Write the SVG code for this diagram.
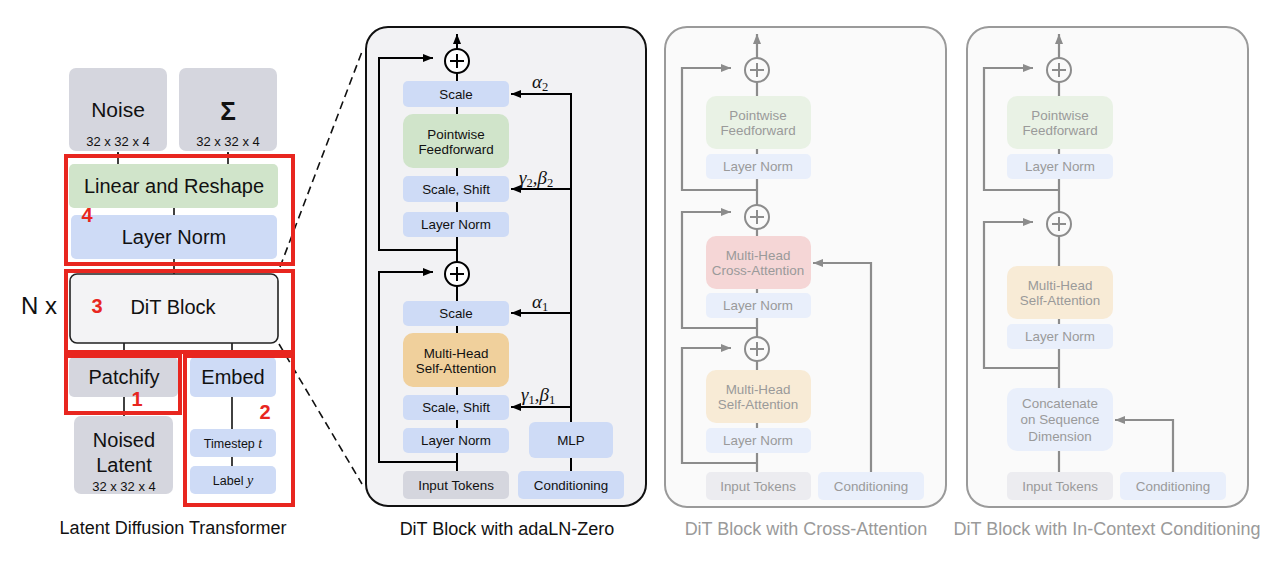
<svg xmlns="http://www.w3.org/2000/svg" width="1280" height="563" viewBox="0 0 1280 563">
<defs>
<style>
text{font-family:"Liberation Sans",Arial,sans-serif;text-anchor:middle}
.t20{font-size:20px;fill:#111}
.t13{font-size:13.4px;fill:#111}
.s13{font-size:13px;fill:#111}
.f13{font-size:13.4px;fill:#9a9a9a}
.cap{font-size:18px;fill:#111}
.fcap{font-size:18px;fill:#9a9a9a}
.red{font-size:20px;font-weight:bold;fill:#e8261f}
.gk{font-family:"Liberation Serif","Times New Roman",serif;font-style:italic;font-size:19px;fill:#111;text-anchor:start}
.sb{font-style:normal;font-size:12.5px}
.rb{fill:none;stroke:#e8261f;stroke-width:4}
.ln{fill:none;stroke:#111;stroke-width:1.6}
.bk{fill:none;stroke:#000;stroke-width:2}
.gy{fill:none;stroke:#8c8c8c;stroke-width:2.2}
.blue{fill:#cedbf6}
.gray{fill:#d5d6de}
.green{fill:#d0e4ca}
.orange{fill:#f0d09c}
.fblue{fill:#e9effb}
.fgray{fill:#ececf0}
.fgreen{fill:#e9f2e5}
.forange{fill:#f8ebd6}
.fpink{fill:#f5d6d6}
</style>
<marker id="ab" markerUnits="userSpaceOnUse" markerWidth="10" markerHeight="10" refX="10" refY="5" orient="auto"><path d="M0,1 L10,5 L0,9 z" fill="#000"/></marker>
<marker id="ag" markerUnits="userSpaceOnUse" markerWidth="10" markerHeight="10" refX="10" refY="5" orient="auto"><path d="M0,1 L10,5 L0,9 z" fill="#8c8c8c"/></marker>
<marker id="as" markerUnits="userSpaceOnUse" markerWidth="6" markerHeight="6" refX="6" refY="3" orient="auto"><path d="M0,0 L6,3 L0,6 z" fill="#111"/></marker>
</defs>
<rect width="1280" height="563" fill="#fff"/>

<!-- connectors -->
<g id="connectors">
  <line class="ln" x1="118" y1="164" x2="118" y2="152" marker-end="url(#as)"/>
  <line class="ln" x1="228" y1="164" x2="228" y2="152" marker-end="url(#as)"/>
  <line class="ln" x1="174" y1="208" x2="174" y2="215"/>
  <line class="ln" x1="174" y1="259" x2="174" y2="274"/>
  <line class="ln" x1="124" y1="343" x2="124" y2="357"/>
  <line class="ln" x1="232" y1="343" x2="232" y2="357"/>
  <line class="ln" x1="124" y1="397" x2="124" y2="416"/>
  <line class="ln" x1="232" y1="397" x2="232" y2="429"/>
  <line class="ln" x1="232" y1="457" x2="232" y2="466"/>
  <line x1="280" y1="267" x2="363" y2="49" stroke="#111" stroke-width="1.6" stroke-dasharray="8,5" fill="none"/>
  <line x1="279" y1="344" x2="362" y2="484" stroke="#111" stroke-width="1.6" stroke-dasharray="8,5" fill="none"/>
</g>

<!-- left panel nodes -->
<g id="noise"><rect class="gray" x="69" y="68" width="98" height="83" rx="7"/><text class="t20" x="118" y="117" style="font-size:21px">Noise</text><text class="s13" x="118" y="146">32 x 32 x 4</text></g>
<g id="sigma"><rect class="gray" x="179" y="68" width="98" height="83" rx="7"/><text class="t20" x="228" y="120" style="font-size:26px;font-weight:bold">Σ</text><text class="s13" x="228" y="146">32 x 32 x 4</text></g>
<g id="linear-reshape"><rect class="green" x="69" y="164" width="209" height="44" rx="5"/><text class="t20" x="174" y="193">Linear and Reshape</text></g>
<g id="final-layer-norm"><rect class="blue" x="71" y="215" width="206" height="44" rx="5"/><text class="t20" x="174" y="244">Layer Norm</text></g>
<g id="dit-block-left"><rect x="70" y="274" width="208" height="69" rx="7" fill="#f3f3f5" stroke="#222" stroke-width="1.6"/><text class="t20" x="173" y="314">DiT Block</text></g>
<g id="nx"><text x="39" y="314" style="font-size:24px;fill:#111">N x</text></g>
<g id="patchify"><rect class="gray" x="69" y="357" width="109" height="40" rx="5"/><text class="t20" x="124" y="384">Patchify</text></g>
<g id="noised-latent"><rect class="gray" x="74" y="416" width="99" height="78" rx="7"/><text class="t20" x="124" y="447">Noised</text><text class="t20" x="124" y="472">Latent</text><text class="s13" x="124" y="491">32 x 32 x 4</text></g>
<g id="embed"><rect class="blue" x="190" y="357" width="86" height="40" rx="5"/><text class="t20" x="233" y="384">Embed</text></g>
<g id="timestep"><rect class="blue" x="190" y="429" width="86" height="28" rx="5"/><text x="233" y="448" style="font-size:12.5px;fill:#111">Timestep <tspan style="font-family:'Liberation Serif',serif;font-style:italic;font-size:14px">t</tspan></text></g>
<g id="label"><rect class="blue" x="190" y="466" width="86" height="28" rx="5"/><text x="233" y="485" style="font-size:12.5px;fill:#111">Label <tspan style="font-family:'Liberation Serif',serif;font-style:italic;font-size:14px">y</tspan></text></g>
<g id="red-boxes">
  <rect class="rb" x="66" y="156" width="227" height="108"/>
  <rect class="rb" x="66" y="271" width="227" height="81"/>
  <rect class="rb" x="66" y="356" width="114" height="57"/>
  <rect class="rb" x="185" y="356" width="108" height="149"/>
  <text class="red" x="87" y="222">4</text>
  <text class="red" x="97" y="313">3</text>
  <text class="red" x="137" y="406">1</text>
  <text class="red" x="265" y="419">2</text>
</g>
<text class="cap" x="173" y="534">Latent Diffusion Transformer</text>

<!-- middle panel: adaLN-Zero -->
<g id="adaln-panel">
  <rect x="366" y="27" width="280" height="479" rx="22" fill="#f2f2f4" stroke="#111" stroke-width="2"/>
  <g id="adaln-connectors">
    <line class="bk" x1="457" y1="471" x2="457" y2="34" marker-end="url(#ab)"/>
    <path class="bk" d="M457,250 H379 V58 H433" marker-end="url(#ab)"/>
    <path class="bk" d="M457,462 H379 V272 H433" marker-end="url(#ab)"/>
    <line class="bk" x1="571" y1="471" x2="571" y2="93"/>
    <path class="bk" d="M572,94 H511" marker-end="url(#ab)"/>
    <path class="bk" d="M572,189 H511" marker-end="url(#ab)"/>
    <path class="bk" d="M572,313 H511" marker-end="url(#ab)"/>
    <path class="bk" d="M572,407 H511" marker-end="url(#ab)"/>
  </g>
  <g id="adaln-plus1"><circle cx="457" cy="61" r="12" fill="#fff" stroke="#000" stroke-width="2"/><path d="M450,61 H464 M457,54 V68" stroke="#000" stroke-width="2"/></g>
  <g id="adaln-plus2"><circle cx="457" cy="274" r="12" fill="#fff" stroke="#000" stroke-width="2"/><path d="M450,274 H464 M457,267 V281" stroke="#000" stroke-width="2"/></g>
  <g id="adaln-scale2"><rect class="blue" x="403" y="81" width="106" height="26" rx="5"/><text class="t13" x="456" y="98.5">Scale</text></g>
  <g id="adaln-ff"><rect class="green" x="403" y="114" width="106" height="54" rx="10"/><text class="t13" x="456" y="139">Pointwise</text><text class="t13" x="456" y="154">Feedforward</text></g>
  <g id="adaln-ss2"><rect class="blue" x="403" y="176" width="106" height="26" rx="5"/><text class="t13" x="456" y="193.5">Scale, Shift</text></g>
  <g id="adaln-ln2"><rect class="blue" x="403" y="212" width="106" height="25" rx="5"/><text class="t13" x="456" y="229">Layer Norm</text></g>
  <g id="adaln-scale1"><rect class="blue" x="403" y="301" width="106" height="25" rx="5"/><text class="t13" x="456" y="318">Scale</text></g>
  <g id="adaln-attn"><rect class="orange" x="403" y="333" width="106" height="54" rx="10"/><text class="t13" x="456" y="358">Multi-Head</text><text class="t13" x="456" y="373">Self-Attention</text></g>
  <g id="adaln-ss1"><rect class="blue" x="403" y="395" width="106" height="25" rx="5"/><text class="t13" x="456" y="412">Scale, Shift</text></g>
  <g id="adaln-ln1"><rect class="blue" x="403" y="428" width="106" height="25" rx="5"/><text class="t13" x="456" y="445">Layer Norm</text></g>
  <g id="adaln-mlp"><rect class="blue" x="529" y="422" width="84" height="36" rx="6"/><text class="t13" x="571" y="445">MLP</text></g>
  <g id="adaln-input"><rect class="gray" x="403" y="471" width="106" height="28" rx="5"/><text class="t13" x="456" y="490">Input Tokens</text></g>
  <g id="adaln-cond"><rect class="blue" x="518" y="471" width="106" height="28" rx="5"/><text class="t13" x="571" y="490">Conditioning</text></g>
  <text class="gk" x="532" y="88">α<tspan class="sb" dy="3">2</tspan></text>
  <text class="gk" x="519" y="184">γ<tspan class="sb" dy="3">2</tspan><tspan dy="-3">,β</tspan><tspan class="sb" dy="3">2</tspan></text>
  <text class="gk" x="532" y="308">α<tspan class="sb" dy="3">1</tspan></text>
  <text class="gk" x="521" y="401">γ<tspan class="sb" dy="3">1</tspan><tspan dy="-3">,β</tspan><tspan class="sb" dy="3">1</tspan></text>
</g>
<text class="cap" x="507" y="535">DiT Block with adaLN-Zero</text>

<!-- cross-attention panel -->
<g id="cross-panel">
  <rect x="665" y="27" width="281" height="480" rx="22" fill="#fafafa" stroke="#9a9a9a" stroke-width="2"/>
  <g id="cross-connectors">
    <line class="gy" x1="757" y1="472" x2="757" y2="34" marker-end="url(#ag)"/>
    <path class="gy" d="M757,190 H682 V68 H731" marker-end="url(#ag)"/>
    <path class="gy" d="M757,328 H682 V212 H731" marker-end="url(#ag)"/>
    <path class="gy" d="M757,463 H682 V348 H731" marker-end="url(#ag)"/>
    <path class="gy" d="M871,472 V263 H813" marker-end="url(#ag)"/>
  </g>
  <g id="cross-plus1"><circle cx="757" cy="70" r="12" fill="#fafafa" stroke="#8c8c8c" stroke-width="2"/><path d="M750,70 H764 M757,63 V77" stroke="#8c8c8c" stroke-width="2"/></g>
  <g id="cross-plus2"><circle cx="757" cy="217" r="12" fill="#fafafa" stroke="#8c8c8c" stroke-width="2"/><path d="M750,217 H764 M757,210 V224" stroke="#8c8c8c" stroke-width="2"/></g>
  <g id="cross-plus3"><circle cx="757" cy="349" r="12" fill="#fafafa" stroke="#8c8c8c" stroke-width="2"/><path d="M750,349 H764 M757,342 V356" stroke="#8c8c8c" stroke-width="2"/></g>
  <g id="cross-ff"><rect class="fgreen" x="706" y="96" width="105" height="53" rx="10"/><text class="f13" x="758" y="120">Pointwise</text><text class="f13" x="758" y="135">Feedforward</text></g>
  <g id="cross-ln3"><rect class="fblue" x="706" y="154" width="105" height="25" rx="5"/><text class="f13" x="758" y="171">Layer Norm</text></g>
  <g id="cross-ca"><rect class="fpink" x="706" y="236" width="105" height="53" rx="10"/><text class="f13" x="758" y="260">Multi-Head</text><text class="f13" x="758" y="275">Cross-Attention</text></g>
  <g id="cross-ln2"><rect class="fblue" x="706" y="293" width="105" height="25" rx="5"/><text class="f13" x="758" y="310">Layer Norm</text></g>
  <g id="cross-sa"><rect class="forange" x="706" y="370" width="105" height="53" rx="10"/><text class="f13" x="758" y="394">Multi-Head</text><text class="f13" x="758" y="409">Self-Attention</text></g>
  <g id="cross-ln1"><rect class="fblue" x="706" y="428" width="105" height="25" rx="5"/><text class="f13" x="758" y="445">Layer Norm</text></g>
  <g id="cross-input"><rect class="fgray" x="706" y="472" width="105" height="28" rx="5"/><text class="f13" x="758" y="491">Input Tokens</text></g>
  <g id="cross-cond"><rect class="fblue" x="818" y="472" width="106" height="28" rx="5"/><text class="f13" x="871" y="491">Conditioning</text></g>
</g>
<text class="fcap" x="806" y="535">DiT Block with Cross-Attention</text>

<!-- in-context panel -->
<g id="incontext-panel">
  <rect x="967" y="27" width="281" height="480" rx="22" fill="#fafafa" stroke="#9a9a9a" stroke-width="2"/>
  <g id="incontext-connectors">
    <line class="gy" x1="1059" y1="472" x2="1059" y2="34" marker-end="url(#ag)"/>
    <path class="gy" d="M1059,190 H984 V68 H1033" marker-end="url(#ag)"/>
    <path class="gy" d="M1059,368 H984 V222 H1033" marker-end="url(#ag)"/>
    <path class="gy" d="M1173,472 V420 H1115" marker-end="url(#ag)"/>
  </g>
  <g id="ic-plus1"><circle cx="1059" cy="70" r="12" fill="#fafafa" stroke="#8c8c8c" stroke-width="2"/><path d="M1052,70 H1066 M1059,63 V77" stroke="#8c8c8c" stroke-width="2"/></g>
  <g id="ic-plus2"><circle cx="1059" cy="224" r="12" fill="#fafafa" stroke="#8c8c8c" stroke-width="2"/><path d="M1052,224 H1066 M1059,217 V231" stroke="#8c8c8c" stroke-width="2"/></g>
  <g id="ic-ff"><rect class="fgreen" x="1007" y="96" width="106" height="53" rx="10"/><text class="f13" x="1060" y="120">Pointwise</text><text class="f13" x="1060" y="135">Feedforward</text></g>
  <g id="ic-ln2"><rect class="fblue" x="1007" y="154" width="106" height="25" rx="5"/><text class="f13" x="1060" y="171">Layer Norm</text></g>
  <g id="ic-sa"><rect class="forange" x="1007" y="266" width="106" height="53" rx="10"/><text class="f13" x="1060" y="290">Multi-Head</text><text class="f13" x="1060" y="305">Self-Attention</text></g>
  <g id="ic-ln1"><rect class="fblue" x="1007" y="324" width="106" height="25" rx="5"/><text class="f13" x="1060" y="341">Layer Norm</text></g>
  <g id="ic-concat"><rect class="fblue" x="1007" y="388" width="106" height="63" rx="10"/><text class="f13" x="1060" y="408">Concatenate</text><text class="f13" x="1060" y="424">on Sequence</text><text class="f13" x="1060" y="441">Dimension</text></g>
  <g id="ic-input"><rect class="fgray" x="1007" y="472" width="106" height="28" rx="5"/><text class="f13" x="1060" y="491">Input Tokens</text></g>
  <g id="ic-cond"><rect class="fblue" x="1120" y="472" width="106" height="28" rx="5"/><text class="f13" x="1173" y="491">Conditioning</text></g>
</g>
<text class="fcap" x="1107" y="535">DiT Block with In-Context Conditioning</text>
</svg>
